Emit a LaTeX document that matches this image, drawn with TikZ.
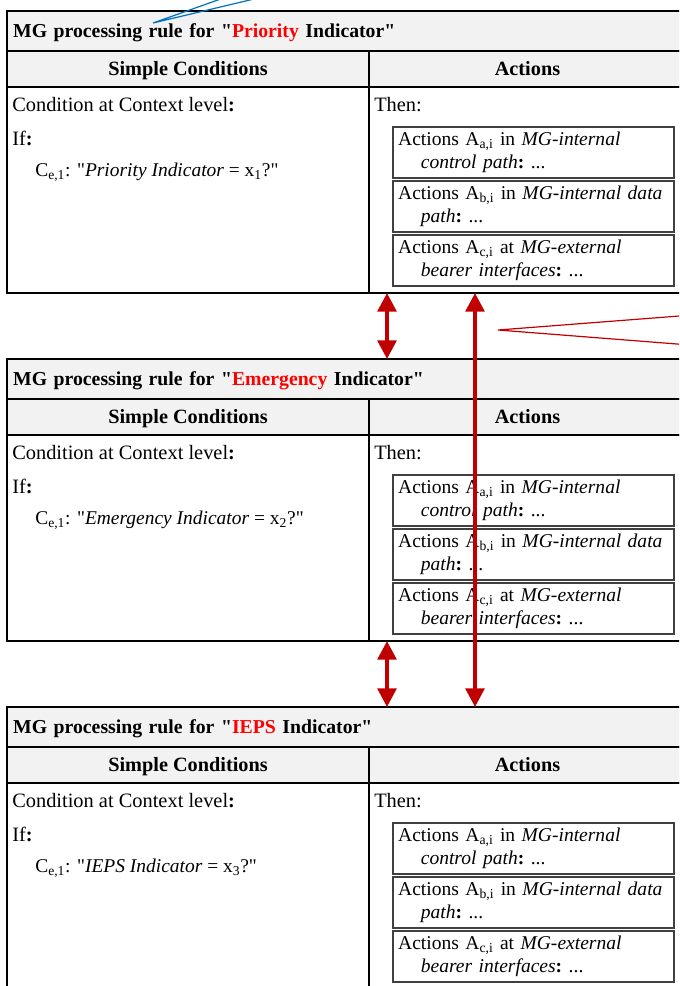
\documentclass[tikz,border=0pt]{standalone}
\usepackage{fontspec}
\setmainfont{Liberation Serif}
\usetikzlibrary{arrows.meta}
\definecolor{hdrgray}{HTML}{F2F2F2}
\definecolor{rulered}{HTML}{FF0000}
\definecolor{arrred}{HTML}{C00000}
\definecolor{callblue}{HTML}{0070C0}
\newcommand{\dq}{\textquotedbl}
\newcommand{\lo}[1]{\textsubscript{#1}}
\newcommand{\bc}{\textbf{:}}

\begin{document}
\begin{tikzpicture}[x=0.75pt,y=-0.75pt,
  cell/.style={draw,line width=1.1pt,anchor=north west,inner sep=0pt,outer sep=0pt},
  grey/.style={cell,fill=hdrgray},
  bodytxt/.style={anchor=west,inner sep=0pt,font=\fontsize{15.3}{17.25}\selectfont},
  boldtxt/.style={font=\bfseries\fontsize{15.2}{18}\selectfont,text height=12pt,text depth=2.5pt},
  actbox/.style={draw=black!75,line width=1.1pt,anchor=north west,outer sep=0pt,
    minimum width=210.75pt,minimum height=38.25pt,inner xsep=3.75pt,inner ysep=0pt,
    text width=203pt,align=left,font=\fontsize{14.65}{17.25}\selectfont},
  bigarrow/.style={arrred,line width=3pt,{Triangle[length=14pt,width=14pt]}-{Triangle[length=14pt,width=14pt]}}]
  \useasboundingbox (0,0) rectangle (679,986);
  \clip (0,0) rectangle (679,986);

% one table per indicator
\foreach \i/\word/\n in {1/Priority/1,2/Emergency/2,3/IEPS/3} {
  \pgfmathsetmacro{\o}{(\i-1)*348}
  \node (hdr\i) at (7,11+\o) [grey,boldtxt,font=\bfseries\fontsize{14.8}{18}\selectfont,
     minimum width=509.25pt,minimum height=30pt,inner xsep=3.75pt,text width=500pt,align=left]
     {MG processing rule for \dq\textcolor{rulered}{\word} Indicator\dq};
  \node (subL\i) at (7,51+\o) [grey,boldtxt,minimum width=271.5pt,minimum height=27pt] {Simple Conditions};
  \node (subR\i) at (369,51+\o) [grey,boldtxt,minimum width=237.75pt,minimum height=27pt] {Actions};
  \node (bodyL\i) at (7,87+\o) [cell,minimum width=271.5pt,minimum height=154.5pt] {};
  \node (bodyR\i) at (369,87+\o) [cell,minimum width=237.75pt,minimum height=154.5pt] {};

  \node (cond\i) at (12,105+\o) [bodytxt] {Condition at Context level\bc};
  \node (if\i) at (12,138+\o) [bodytxt] {If\bc};
  \node (ce\i) at (35,172+\o) [bodytxt,font=\fontsize{14.6}{17.25}\selectfont]
     {C\lo{e,1}: \dq\textit{\word\ Indicator} = x\lo{\n}?\dq};
  \node (then\i) at (374,105+\o) [bodytxt] {Then:};

  \node (acta\i) at (393,127+\o) [actbox]
     {\mbox{Actions A\lo{a,i} in \textit{MG-internal}}\\\hspace*{17pt}\mbox{\textit{control path}\bc\ ...}};
  \node (actb\i) at (393,181+\o) [actbox]
     {\mbox{Actions A\lo{b,i} in \textit{MG-internal data}}\\\hspace*{17pt}\mbox{\textit{path}\bc\ ...}};
  \node (actc\i) at (393,235+\o) [actbox]
     {\mbox{Actions A\lo{c,i} at \textit{MG-external}}\\\hspace*{17pt}\mbox{\textit{bearer interfaces}\bc\ ...}};
}

\coordinate (xa) at (387,0);
\coordinate (xb) at (475,0);

\draw[bigarrow] (bodyR1.south -| xa) -- (hdr2.north -| xa);
\draw[bigarrow] (bodyR2.south -| xa) -- (hdr3.north -| xa);
\draw[bigarrow] (bodyR1.south -| xb) -- (hdr3.north -| xb);

% callout lines running off the page
\coordinate (bluetip) at (153,23);
\coordinate (redtip) at (498,330);
\draw[callblue,line width=0.9pt] (246,-10) -- (bluetip) -- (292,-10);
\draw[arrred,line width=0.9pt] (700,314.4) -- (redtip) -- (700,345.8);

\end{tikzpicture}
\end{document}
